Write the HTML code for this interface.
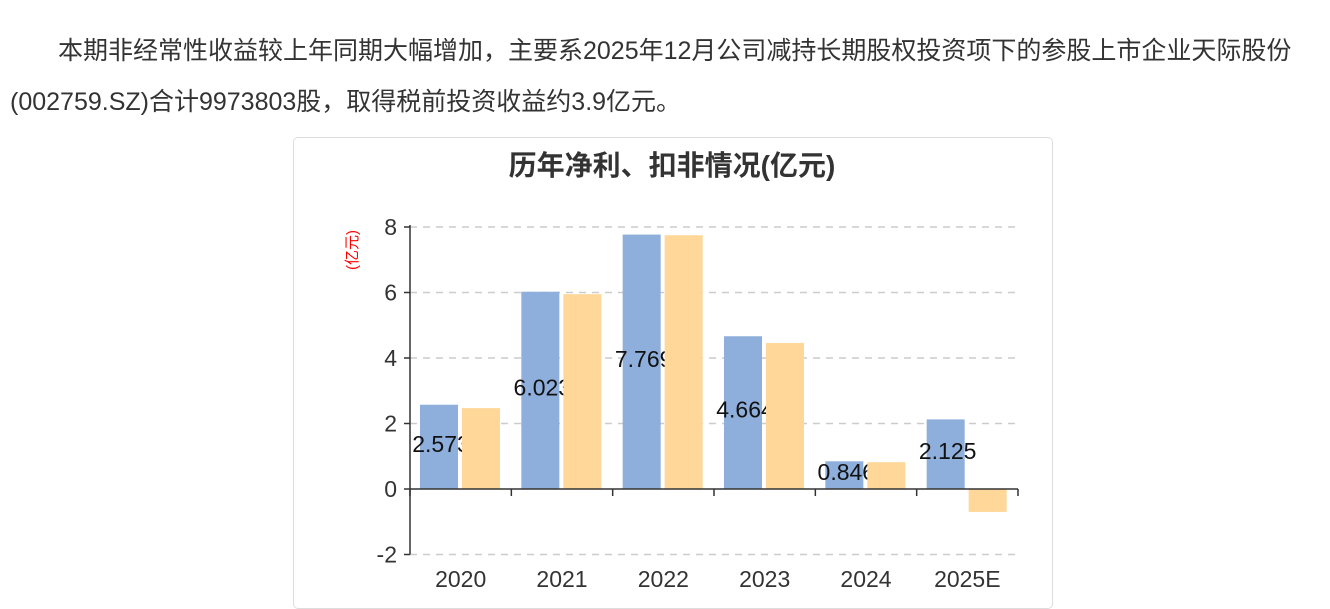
<!DOCTYPE html>
<html><head><meta charset="utf-8"><style>
body{margin:0;width:1330px;height:590px;overflow:hidden;background:#fff;font-family:"Liberation Sans","Noto Sans CJK SC",sans-serif;}
.p{position:absolute;left:10px;color:#333;font-size:25px;white-space:nowrap;}
#card{position:absolute;left:293px;top:137px;width:758px;height:470px;border:1px solid #ddd;border-radius:5px;}
</style></head><body>
<div class="p" style="left:58px;top:31px;">本期非经常性收益较上年同期大幅增加，主要系2025年12月公司减持长期股权投资项下的参股上市企业天际股份</div>
<div class="p" style="top:82px;">(002759.SZ)合计9973803股，取得税前投资收益约3.9亿元。</div>
<div id="card"></div>
<svg id="chart" width="1330" height="590" style="position:absolute;left:0;top:0;font-family:'Liberation Sans','Noto Sans CJK SC',sans-serif;"></svg>
<script>
const categories=["2020","2021","2022","2023","2024","2025E"];
const netProfit=[2.573,6.023,7.769,4.664,0.846,2.125];
const deductedProfit=[2.47,5.95,7.75,4.46,0.82,-0.70];
const yTicks=[-2,0,2,4,6,8];
const NS="http://www.w3.org/2000/svg";
const svg=document.getElementById('chart');
const x0=410,x1=1018,bw=(x1-x0)/categories.length;
const yS=v=>489-v*32.75;
function mk(t,a,p){const e=document.createElementNS(NS,t);for(const k in a)e.setAttribute(k,a[k]);(p||svg).appendChild(e);return e;}
let t=mk('text',{x:672,y:175,'text-anchor':'middle','font-size':28,'font-weight':'bold',fill:'#333'});t.textContent='历年净利、扣非情况(亿元)';


t=mk('text',{x:357,y:250,'text-anchor':'middle','font-size':15,fill:'#f00',transform:'rotate(-90 357 250)'});t.textContent='(亿元)';


yTicks.forEach(v=>{const y=yS(v);
 if(v!==0){const l=mk('line',{x1:x0,x2:x1,y1:y,y2:y,stroke:'#ccc','stroke-dasharray':'7,6','stroke-width':1.5});
 
 }
 mk('line',{x1:x0-6,x2:x0,y1:y,y2:y,stroke:'#333','stroke-width':1.5});
 const tx=mk('text',{x:397,y:y+8,'text-anchor':'end','font-size':23,fill:'#333'});tx.textContent=v;
 
 
});
categories.forEach((c,i)=>{const cx=x0+bw*i;
 const v=netProfit[i];const b=mk('rect',{x:cx+10,y:Math.min(yS(v),yS(0)),width:38,height:Math.abs(yS(v)-yS(0)),fill:'#8eaedb'});
 
 
 const lb=mk('text',{x:cx+31,y:(yS(v)+yS(0))/2+5,'text-anchor':'middle','font-size':23,fill:'#111'});lb.textContent=v.toFixed(3);
 
 
});
categories.forEach((c,i)=>{const cx=x0+bw*i;
 const v=deductedProfit[i];const b=mk('rect',{x:cx+52,y:Math.min(yS(v),yS(0)),width:38,height:Math.abs(yS(v)-yS(0)),fill:'#ffd899'});
 
 
 const tx=mk('text',{x:cx+bw/2,y:587,'text-anchor':'middle','font-size':23,fill:'#333'});tx.textContent=c;
 
 
});
mk('line',{x1:x0,x2:x0,y1:yS(8)-2,y2:yS(-2),stroke:'#333','stroke-width':1.5});
mk('line',{x1:x0,x2:x1,y1:yS(0),y2:yS(0),stroke:'#333','stroke-width':1.5});
for(let i=0;i<=categories.length;i++){const x=x0+bw*i;mk('line',{x1:x,x2:x,y1:yS(0),y2:yS(0)+7,stroke:'#333','stroke-width':1.5});}
</script>
</body></html>
